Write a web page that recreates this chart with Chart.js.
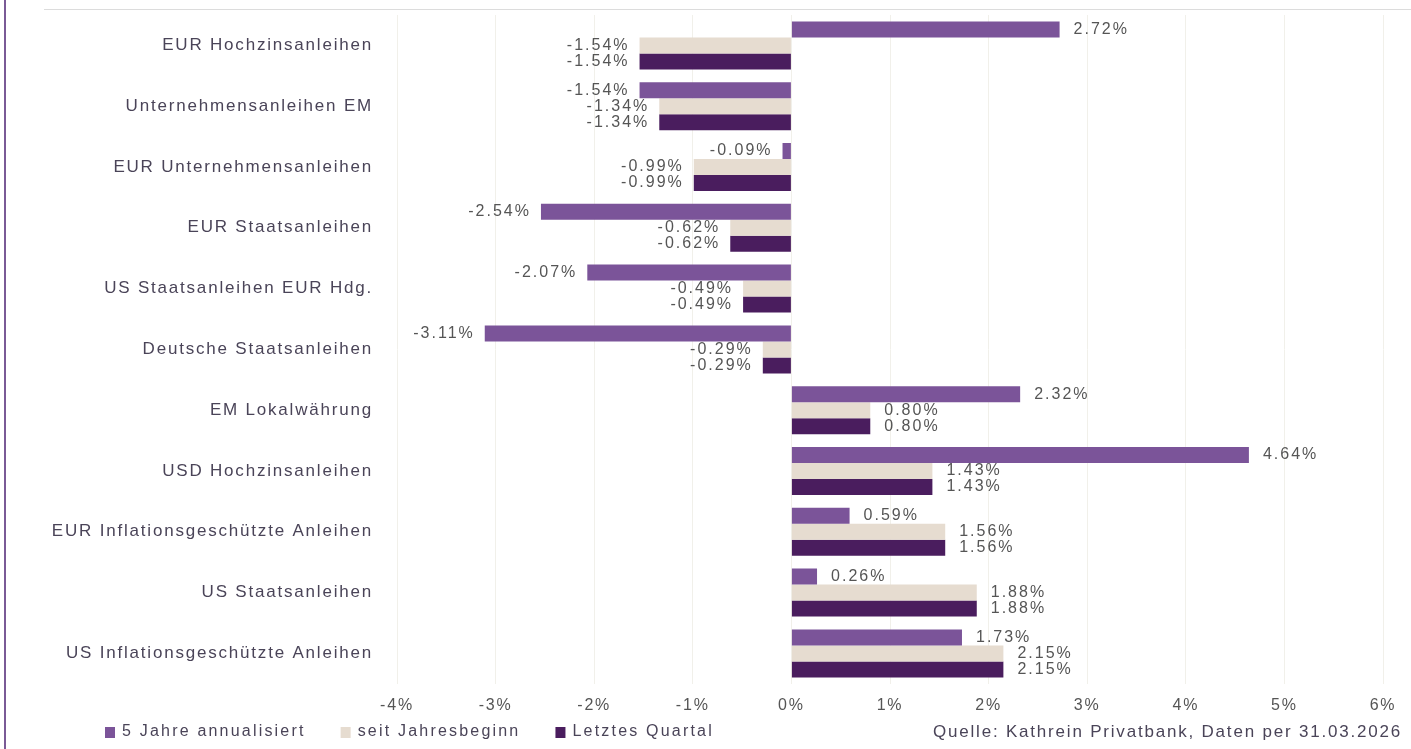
<!DOCTYPE html>
<html>
<head>
<meta charset="utf-8">
<script src="https://cdn.jsdelivr.net/npm/chart.js@4.4.1/dist/chart.umd.min.js"></script>
<style>
  html, body { margin: 0; padding: 0; background: #ffffff; }
  #wrap { position: relative; width: 1411px; height: 749px; overflow: hidden; }
  #leftline { position: absolute; left: 4px; top: 0; width: 2px; height: 749px; background: #7a5a96; }
  #topline { position: absolute; left: 44px; top: 9px; width: 1367px; height: 1px; background: #dcdcdc; }
  canvas { position: absolute; left: 0; top: 0; }
</style>
</head>
<body>
<div id="wrap">
  <canvas id="c" width="1411" height="749"></canvas>
  <div id="leftline"></div>
  <div id="topline"></div>
</div>
<script>
const categories = [
  "EUR Hochzinsanleihen",
  "Unternehmensanleihen EM",
  "EUR Unternehmensanleihen",
  "EUR Staatsanleihen",
  "US Staatsanleihen EUR Hdg.",
  "Deutsche Staatsanleihen",
  "EM Lokalwährung",
  "USD Hochzinsanleihen",
  "EUR Inflationsgeschützte Anleihen",
  "US Staatsanleihen",
  "US Inflationsgeschützte Anleihen"
];
const seriesNames = ["5 Jahre annualisiert", "seit Jahresbeginn", "Letztes Quartal"];
const fiveYears = [2.72, -1.54, -0.09, -2.54, -2.07, -3.11, 2.32, 4.64, 0.59, 0.26, 1.73];
const sinceYearStart = [-1.54, -1.34, -0.99, -0.62, -0.49, -0.29, 0.80, 1.43, 1.56, 1.88, 2.15];
const lastQuarter = [-1.54, -1.34, -0.99, -0.62, -0.49, -0.29, 0.80, 1.43, 1.56, 1.88, 2.15];
const sourceText = "Quelle: Kathrein Privatbank, Daten per 31.03.2026";
const xMin = -4, xMax = 6;

const colors = ["#7b5499", "#e6dcd0", "#4a1d5e"];
const FONT = "'Liberation Sans', Arial, sans-serif";
const SPACING = "1.8px";

const spacingPlugin = {
  id: 'spacing',
  beforeLayout(chart) { chart.ctx.letterSpacing = SPACING; },
  beforeDraw(chart) { chart.ctx.letterSpacing = SPACING; }
};

const valueLabels = {
  id: 'valueLabels',
  afterDatasetsDraw(chart) {
    const ctx = chart.ctx;
    ctx.save();
    ctx.letterSpacing = "2px";
    ctx.font = "16px " + FONT;
    ctx.fillStyle = "#555555";
    ctx.textBaseline = "middle";
    chart.data.datasets.forEach((ds, di) => {
      const meta = chart.getDatasetMeta(di);
      meta.data.forEach((bar, i) => {
        const v = ds.data[i];
        const txt = v.toFixed(2) + "%";
        if (v >= 0) {
          ctx.textAlign = "left";
          ctx.fillText(txt, bar.x + 14, bar.y);
        } else {
          ctx.textAlign = "right";
          ctx.fillText(txt, bar.x - 10, bar.y);
        }
      });
    });
    ctx.restore();
  }
};

const footer = {
  id: 'footer',
  afterDraw(chart) {
    const ctx = chart.ctx;
    ctx.save();
    ctx.letterSpacing = "2.2px";
    ctx.font = "16px " + FONT;
    ctx.textBaseline = "middle";
    const y = 732;
    let x = 105;
    chart.data.datasets.forEach((ds) => {
      ctx.fillStyle = ds.backgroundColor;
      ctx.fillRect(x, y - 5, 10, 11);
      ctx.fillStyle = "#4a4458";
      ctx.textAlign = "left";
      ctx.fillText(ds.label, x + 17, y);
      x += 17 + ctx.measureText(ds.label).width + 35;
    });
    ctx.letterSpacing = "1.8px";
    ctx.font = "17px " + FONT;
    ctx.textAlign = "right";
    ctx.fillStyle = "#4a4458";
    ctx.fillText(sourceText, 1402, y);
    ctx.restore();
  }
};

new Chart(document.getElementById('c'), {
  type: 'bar',
  data: {
    labels: categories,
    datasets: [
      { label: seriesNames[0], data: fiveYears, backgroundColor: colors[0] },
      { label: seriesNames[1], data: sinceYearStart, backgroundColor: colors[1] },
      { label: seriesNames[2], data: lastQuarter, backgroundColor: colors[2] }
    ]
  },
  options: {
    indexAxis: 'y',
    responsive: false,
    animation: false,
    devicePixelRatio: 1,
    layout: { padding: { top: 15, right: 28, bottom: 22, left: 0 } },
    datasets: { bar: { categoryPercentage: 0.79, barPercentage: 1.0 } },
    plugins: {
      legend: { display: false },
      tooltip: { enabled: false }
    },
    scales: {
      x: {
        min: xMin, max: xMax,
        ticks: {
          stepSize: 1,
          padding: 12,
          color: "#555555",
          font: { family: FONT, size: 16 },
          callback: (v) => v + "%"
        },
        grid: { color: "#f1f0ea", drawTicks: false },
        border: { display: false }
      },
      y: {
        ticks: {
          padding: 24,
          color: "#4a4458",
          font: { family: FONT, size: 17 }
        },
        grid: { display: false, drawTicks: false },
        border: { display: false },
        afterFit(scale) { scale.width = 397; scale.paddingTop = 0; scale.paddingBottom = 0; }
      }
    }
  },
  plugins: [spacingPlugin, valueLabels, footer]
});
</script>
</body>
</html>
